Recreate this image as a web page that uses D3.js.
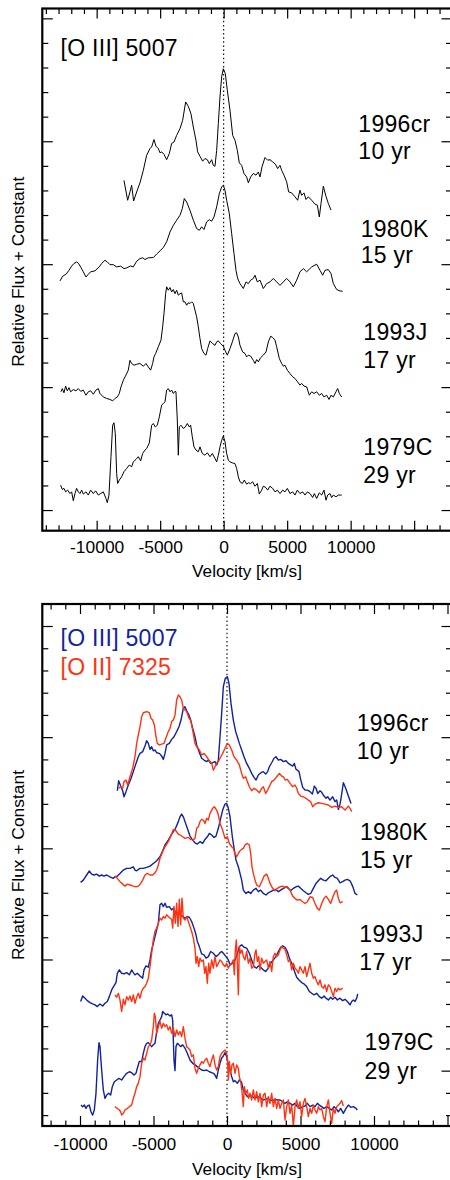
<!DOCTYPE html>
<html>
<head>
<meta charset="utf-8">
<script src="https://cdn.jsdelivr.net/npm/d3@7"></script>
<style>
body { margin: 0; background: #fff; }
text { font-family: "Liberation Sans", Arial, Helvetica, sans-serif; fill: #000; }
</style>
</head>
<body>
<svg id="chart" width="450" height="1180"></svg>
<script>
// tick labels shared by both panels
const velocityLabels = [-10000, -5000, 0, 5000, 10000]
const snNames = ['1996cr', '1980K', '1993J', '1979C']
const snAges = ['10 yr', '15 yr', '17 yr', '29 yr']

// top panel, [O III] 5007 only: [velocity km/s, relative flux + constant]
const top1996cr = [[-7850,13.41],[-7560,12.60],[-7376,12.94],[-7245,13.21],[-7088,12.57],[-6851,12.94],[-6589,13.31],[-6326,13.82],[-6064,14.43],[-5801,14.70],[-5670,14.77],[-5486,15.07],[-5329,14.80],[-5145,14.70],[-5014,14.53],[-4883,14.57],[-4699,14.47],[-4489,14.25],[-4279,14.50],[-4095,14.91],[-3911,14.97],[-3701,15.24],[-3439,15.51],[-3229,15.85],[-2993,16.60],[-2783,16.42],[-2573,16.12],[-2389,15.58],[-2179,15.04],[-2048,14.57],[-1864,14.39],[-1654,14.19],[-1470,14.30],[-1286,14.25],[-1129,14.09],[-945,14.25],[-814,14.02],[-683,13.98],[-551,14.63],[-420,15.72],[-289,16.80],[-158,17.62],[-26,17.95],[131,17.75],[289,17.07],[499,16.26],[709,15.24],[893,15.04],[1076,14.63],[1234,14.12],[1418,14.02],[1601,13.69],[1811,13.55],[1943,13.31],[2126,13.55],[2336,13.69],[2546,13.62],[2730,13.75],[2861,13.55],[3019,13.96],[3255,14.34],[3465,14.23],[3649,14.25],[3859,14.16],[4069,14.07],[4253,13.89],[4436,14.02],[4568,13.82],[4751,13.62],[4961,13.35],[5119,12.94],[5355,12.90],[5618,12.74],[5828,12.60],[6011,13.01],[6143,12.80],[6326,12.90],[6484,12.63],[6668,12.74],[6930,12.60],[7193,12.44],[7376,12.40],[7534,11.92],[7665,12.47],[7849,13.17],[8033,12.80],[8243,12.47],[8453,12.20]]
const top1980K = [[-12889,9.32],[-12679,9.51],[-12416,9.59],[-12180,9.75],[-11970,9.92],[-11786,10.03],[-11576,10.09],[-11419,10.03],[-11235,9.86],[-11051,9.69],[-10841,9.48],[-10658,9.59],[-10474,9.69],[-10133,9.73],[-9791,9.89],[-9608,10.03],[-9345,10.16],[-9161,10.09],[-8951,9.98],[-8689,9.98],[-8426,9.89],[-8111,9.92],[-7849,9.82],[-7639,9.85],[-7324,9.93],[-7114,9.89],[-6851,10.12],[-6589,10.23],[-6379,10.26],[-6195,10.19],[-5933,10.26],[-5539,10.27],[-5276,10.41],[-5014,10.54],[-4751,10.68],[-4489,10.91],[-4226,11.31],[-3964,11.58],[-3701,11.79],[-3439,11.99],[-3255,12.26],[-3098,12.67],[-2914,12.53],[-2651,12.19],[-2389,11.79],[-2126,11.45],[-1916,11.38],[-1733,11.52],[-1549,11.41],[-1339,11.72],[-1129,11.81],[-945,11.75],[-761,11.92],[-551,12.33],[-341,12.87],[-158,13.14],[-26,13.21],[105,13.01],[236,12.60],[446,12.06],[630,11.25],[814,10.43],[971,9.75],[1076,9.48],[1155,9.35],[1286,9.21],[1549,9.01],[1759,9.28],[1943,9.21],[2126,9.35],[2336,9.42],[2468,9.55],[2651,9.28],[2861,9.35],[3124,9.01],[3386,9.21],[3649,9.28],[3911,9.42],[4174,9.28],[4436,9.14],[4699,9.28],[4961,9.42],[5224,9.28],[5486,9.08],[5749,9.35],[6011,9.69],[6274,9.82],[6536,9.69],[6930,9.89],[7324,10.00],[7586,9.75],[7796,9.55],[7980,9.75],[8243,9.78],[8453,9.62],[8636,9.21],[8899,8.97],[9161,8.91],[9371,8.90]]
const top1993J = [[-12810,4.81],[-12705,4.94],[-12574,4.77],[-12443,5.04],[-12311,4.85],[-12180,4.98],[-12049,4.81],[-11839,4.90],[-11629,4.85],[-11445,4.94],[-11261,4.83],[-11051,4.88],[-10841,4.67],[-10658,4.81],[-10474,4.85],[-10264,4.71],[-10054,4.88],[-9870,4.94],[-9739,4.74],[-9476,4.60],[-9214,4.54],[-8951,4.50],[-8741,4.44],[-8558,4.54],[-8374,4.60],[-8216,4.74],[-8085,5.01],[-7901,5.28],[-7691,5.49],[-7508,5.69],[-7376,6.09],[-7245,5.96],[-7061,5.89],[-6851,5.93],[-6589,5.96],[-6326,5.85],[-6116,5.96],[-5933,5.82],[-5749,5.69],[-5591,5.96],[-5486,6.23],[-5355,6.37],[-5145,6.64],[-4935,6.91],[-4804,7.45],[-4699,7.99],[-4568,8.80],[-4489,9.08],[-4358,8.94],[-4226,9.05],[-4095,8.87],[-3964,8.97],[-3833,8.80],[-3701,8.94],[-3570,8.74],[-3439,8.80],[-3308,8.83],[-3176,8.47],[-3045,8.47],[-2914,8.33],[-2783,8.43],[-2651,8.40],[-2520,8.47],[-2389,8.40],[-2258,8.13],[-2126,7.86],[-1995,7.45],[-1864,6.98],[-1733,6.57],[-1549,6.37],[-1391,6.30],[-1260,6.57],[-1076,6.88],[-866,6.77],[-683,6.70],[-551,6.84],[-420,6.88],[-236,6.77],[-26,6.66],[105,6.50],[289,6.30],[499,6.57],[683,6.84],[893,7.18],[1024,7.21],[1155,7.04],[1286,6.70],[1496,6.43],[1680,6.37],[1811,6.23],[1943,6.30],[2126,6.26],[2336,6.09],[2468,5.96],[2599,6.12],[2730,6.03],[2914,6.20],[3124,6.30],[3334,6.43],[3518,6.84],[3701,7.07],[3859,7.02],[4043,6.91],[4174,6.64],[4384,6.16],[4568,5.96],[4699,5.85],[4830,5.89],[5014,5.69],[5224,5.55],[5434,5.42],[5618,5.35],[5828,5.21],[6011,5.08],[6143,5.15],[6326,5.04],[6536,5.01],[6746,4.67],[6930,4.81],[7114,4.74],[7324,4.81],[7534,4.67],[7718,4.74],[7901,4.60],[8111,4.67],[8295,4.50],[8453,4.67],[8636,4.60],[8846,4.81],[8978,4.94],[9109,4.74],[9293,4.60]]
const top1979C = [[-12836,1.01],[-12705,0.84],[-12574,0.88],[-12443,0.74],[-12285,0.81],[-12101,0.67],[-11970,0.74],[-11839,0.38],[-11708,0.67],[-11576,0.88],[-11445,0.74],[-11314,0.67],[-11183,0.81],[-11051,0.65],[-10841,0.74],[-10658,0.61],[-10474,0.81],[-10264,0.67],[-10080,0.78],[-9870,0.61],[-9686,0.67],[-9476,0.74],[-9266,0.47],[-9161,0.30],[-9030,0.61],[-8873,2.17],[-8741,3.45],[-8636,3.55],[-8531,3.11],[-8426,1.49],[-8348,1.08],[-8216,1.22],[-8033,1.35],[-7849,1.56],[-7639,1.69],[-7429,1.83],[-7245,1.76],[-7114,1.96],[-6904,2.06],[-6720,2.17],[-6536,2.00],[-6379,2.30],[-6195,2.44],[-6064,2.50],[-5854,2.73],[-5670,3.45],[-5539,3.52],[-5381,3.38],[-5224,3.45],[-5066,3.79],[-4883,4.27],[-4751,4.33],[-4620,4.40],[-4489,4.88],[-4358,4.94],[-4226,4.81],[-4095,4.88],[-3964,4.74],[-3833,4.83],[-3754,4.81],[-3649,3.66],[-3570,2.23],[-3491,3.38],[-3360,3.45],[-3176,3.32],[-3019,3.38],[-2861,3.52],[-2704,3.38],[-2599,3.45],[-2468,2.98],[-2336,2.57],[-2179,2.44],[-1995,2.37],[-1864,2.57],[-1680,2.30],[-1470,2.23],[-1286,2.33],[-1076,2.17],[-893,2.30],[-683,2.10],[-551,1.96],[-420,2.23],[-289,2.57],[-158,2.84],[-26,3.01],[105,2.78],[236,2.30],[368,2.03],[499,1.96],[683,1.92],[893,1.89],[1024,1.69],[1155,1.35],[1286,1.15],[1470,1.08],[1628,1.22],[1811,1.05],[1943,1.11],[2126,1.08],[2284,1.15],[2468,0.97],[2651,1.08],[2809,0.65],[2993,0.81],[3124,0.97],[3308,0.92],[3465,0.81],[3649,0.97],[3859,0.88],[4043,0.74],[4226,0.81],[4436,0.67],[4646,0.81],[4830,0.74],[5014,0.88],[5224,0.67],[5434,0.74],[5618,0.61],[5801,0.81],[6011,0.67],[6221,0.74],[6405,0.61],[6589,0.74],[6799,0.67],[7009,0.51],[7140,0.67],[7324,0.47],[7534,0.70],[7718,0.61],[7901,0.81],[8059,0.40],[8190,0.61],[8374,0.67],[8505,0.51],[8636,0.61],[8846,0.54],[9030,0.61],[9293,0.61]]

// bottom panel, [O III] 5007 (o3) against [O II] 7325 (o2)
const o3_1996cr = [[-7462,12.59],[-7371,13.04],[-7235,12.80],[-7099,12.59],[-7008,12.32],[-6872,12.55],[-6713,12.85],[-6555,13.10],[-6373,13.45],[-6192,13.82],[-6033,14.12],[-5919,14.27],[-5738,14.35],[-5579,14.60],[-5466,14.84],[-5352,14.72],[-5239,14.45],[-5126,14.57],[-5012,14.39],[-4899,14.42],[-4785,14.30],[-4604,14.27],[-4445,14.15],[-4332,14.00],[-4218,14.27],[-4105,14.65],[-3924,14.72],[-3765,14.90],[-3606,15.02],[-3425,15.25],[-3266,15.47],[-3130,15.77],[-2971,16.30],[-2858,16.37],[-2744,16.19],[-2586,15.99],[-2472,15.77],[-2336,15.40],[-2177,15.02],[-2064,14.65],[-1905,14.35],[-1724,14.05],[-1565,13.97],[-1383,13.90],[-1270,13.97],[-1111,13.82],[-975,13.85],[-816,13.90],[-703,13.75],[-590,13.97],[-476,15.02],[-363,16.07],[-249,17.27],[-113,17.65],[23,17.72],[136,17.42],[272,16.52],[431,15.77],[590,15.25],[703,15.02],[839,14.72],[998,14.42],[1157,14.12],[1338,13.82],[1520,13.60],[1678,13.37],[1837,13.19],[1973,13.07],[2132,13.30],[2313,13.40],[2472,13.45],[2631,13.34],[2767,13.45],[2880,13.67],[3039,13.85],[3198,14.05],[3334,14.12],[3493,13.97],[3651,14.00],[3833,13.90],[4014,13.94],[4173,13.82],[4332,13.75],[4468,13.70],[4581,13.82],[4695,13.55],[4785,13.52],[4899,13.45],[5012,13.10],[5148,12.74],[5307,12.62],[5466,12.62],[5647,12.55],[5806,12.44],[5942,12.80],[6056,12.70],[6169,12.47],[6328,12.59],[6441,12.52],[6600,12.35],[6736,12.25],[6849,12.32],[7008,12.17],[7190,12.32],[7348,12.10],[7462,12.17],[7575,11.75],[7689,11.99],[7757,12.25],[7915,12.95],[8074,12.70],[8256,12.35],[8437,12.02]]
const o2_1996cr = [[-7394,12.70],[-7235,12.77],[-7099,12.70],[-7008,13.00],[-6872,13.07],[-6759,12.85],[-6600,13.22],[-6418,13.60],[-6260,14.12],[-6146,14.72],[-6033,15.10],[-5919,15.47],[-5806,15.92],[-5693,16.10],[-5466,16.15],[-5284,16.10],[-5171,15.85],[-5058,15.77],[-4944,15.55],[-4831,15.02],[-4740,14.72],[-4604,14.65],[-4445,14.69],[-4287,14.72],[-4105,15.05],[-3992,15.25],[-3878,15.40],[-3765,15.70],[-3651,15.77],[-3538,15.99],[-3425,16.67],[-3311,16.90],[-3198,16.82],[-3084,16.67],[-2971,16.30],[-2858,16.22],[-2744,16.15],[-2586,15.85],[-2472,15.77],[-2336,15.32],[-2177,14.72],[-2064,14.57],[-1882,14.42],[-1724,14.20],[-1565,14.27],[-1383,14.12],[-1225,13.97],[-1043,13.82],[-930,13.52],[-816,13.67],[-703,13.85],[-590,13.90],[-476,14.05],[-295,14.27],[-136,14.50],[23,14.72],[159,14.65],[318,14.42],[476,14.12],[658,13.97],[839,13.75],[998,13.37],[1111,13.15],[1270,13.22],[1383,13.00],[1520,12.77],[1678,12.59],[1837,12.70],[2019,12.62],[2200,12.50],[2359,12.70],[2472,12.77],[2631,12.47],[2767,12.62],[2926,12.85],[3039,13.00],[3198,13.07],[3379,13.22],[3561,13.37],[3720,13.25],[3833,13.22],[3969,13.07],[4105,13.10],[4287,12.92],[4468,12.77],[4627,12.85],[4740,12.70],[4854,12.47],[5012,12.35],[5194,12.32],[5375,12.25],[5534,12.17],[5693,12.10],[5829,11.87],[5988,11.99],[6214,12.05],[6441,12.02],[6668,11.99],[6895,11.95],[7122,11.84],[7348,11.90],[7575,11.84],[7802,11.87],[8029,11.72],[8256,11.90],[8369,11.80],[8482,11.65]]
const o3_1980K = [[-9957,8.47],[-9775,8.57],[-9548,8.80],[-9367,8.98],[-9208,8.84],[-9049,8.80],[-8868,8.84],[-8686,8.75],[-8528,8.80],[-8369,8.75],[-8187,8.80],[-7961,8.72],[-7734,8.65],[-7620,8.72],[-7507,8.72],[-7280,8.87],[-7053,9.02],[-6827,9.10],[-6600,9.10],[-6373,9.17],[-6260,9.02],[-6146,8.99],[-5919,9.10],[-5693,9.10],[-5466,9.14],[-5239,9.20],[-5012,9.32],[-4785,9.44],[-4559,9.62],[-4377,9.89],[-4218,10.15],[-3992,10.37],[-3765,10.64],[-3538,10.85],[-3311,11.20],[-3198,11.42],[-3084,11.54],[-2971,11.42],[-2858,11.20],[-2699,10.90],[-2517,10.55],[-2336,10.37],[-2177,10.25],[-2019,10.19],[-1837,10.30],[-1656,10.22],[-1497,10.40],[-1338,10.52],[-1202,10.67],[-1043,10.60],[-885,10.49],[-748,10.55],[-590,10.90],[-431,11.35],[-295,11.72],[-136,11.99],[-23,12.02],[91,11.80],[204,11.42],[363,10.52],[499,9.92],[612,9.47],[771,9.17],[885,8.87],[998,8.57],[1111,8.12],[1293,7.97],[1452,8.05],[1610,7.97],[1792,8.12],[1973,8.20],[2132,8.05],[2291,8.12],[2472,7.97],[2654,7.90],[2812,8.00],[2971,8.05],[3153,8.12],[3334,8.15],[3493,8.05],[3651,8.12],[3833,8.20],[4014,8.27],[4173,8.20],[4332,8.09],[4513,8.20],[4695,8.27],[4854,8.30],[5012,8.20],[5194,8.09],[5375,8.00],[5534,7.93],[5693,7.97],[5874,8.20],[6056,8.42],[6214,8.54],[6373,8.65],[6555,8.57],[6736,8.54],[6895,8.65],[7053,8.75],[7190,8.80],[7348,8.69],[7507,8.65],[7689,8.45],[7870,8.50],[8029,8.57],[8187,8.60],[8369,8.54],[8482,8.39],[8596,8.20],[8709,7.97],[8868,7.90]]
const o2_1980K = [[-7620,8.77],[-7462,8.65],[-7280,8.50],[-7099,8.39],[-6940,8.30],[-6781,8.39],[-6600,8.35],[-6373,8.30],[-6192,8.27],[-6033,8.30],[-5874,8.42],[-5738,8.57],[-5579,8.80],[-5421,8.87],[-5239,8.80],[-5058,8.80],[-4899,8.90],[-4785,9.02],[-4672,9.25],[-4559,9.55],[-4377,9.85],[-4218,10.07],[-3992,10.30],[-3765,10.64],[-3651,10.85],[-3470,10.79],[-3311,10.64],[-3198,10.60],[-3016,10.52],[-2858,10.45],[-2631,10.49],[-2472,10.40],[-2291,10.37],[-2177,10.45],[-2064,10.90],[-1950,10.97],[-1837,11.20],[-1724,11.30],[-1610,11.27],[-1497,11.12],[-1383,11.35],[-1270,11.27],[-1157,11.57],[-975,11.80],[-862,11.87],[-703,11.72],[-590,11.50],[-476,11.12],[-295,10.82],[-136,10.45],[23,10.52],[159,10.22],[318,10.07],[431,10.00],[544,9.77],[658,9.62],[771,9.77],[885,9.89],[998,9.95],[1111,10.00],[1225,10.15],[1383,10.22],[1520,10.15],[1610,9.77],[1701,9.17],[1792,8.87],[1905,8.57],[2019,8.35],[2200,8.27],[2359,8.50],[2517,8.75],[2699,8.84],[2812,8.65],[2926,8.42],[3107,8.20],[3266,8.09],[3425,8.20],[3606,8.27],[3788,8.30],[3946,8.24],[4105,8.27],[4287,8.12],[4468,7.85],[4627,7.75],[4785,7.67],[4967,7.70],[5148,7.60],[5307,7.52],[5466,7.60],[5647,7.82],[5829,7.79],[5988,7.52],[6146,7.30],[6282,7.22],[6441,7.52],[6600,7.75],[6736,7.85],[6895,7.70],[7053,7.52],[7190,7.79],[7348,8.05],[7462,8.12],[7575,7.75],[7689,7.55],[7870,7.60]]
const o3_1993J = [[-9957,3.11],[-9820,3.36],[-9662,3.26],[-9503,3.15],[-9321,3.06],[-9140,3.00],[-8981,2.96],[-8823,2.88],[-8641,3.00],[-8460,2.91],[-8301,3.03],[-8142,3.11],[-8006,3.33],[-7847,3.63],[-7689,3.81],[-7552,3.96],[-7462,4.38],[-7326,4.53],[-7167,4.38],[-7008,4.35],[-6827,4.41],[-6645,4.31],[-6486,4.53],[-6373,4.41],[-6260,4.31],[-6101,4.38],[-5919,4.26],[-5738,4.16],[-5647,4.53],[-5511,4.71],[-5352,4.65],[-5239,4.98],[-5126,5.43],[-5012,5.73],[-4899,6.03],[-4785,6.33],[-4672,6.63],[-4559,7.46],[-4445,7.53],[-4332,7.38],[-4218,7.53],[-4105,7.35],[-3924,7.38],[-3765,7.23],[-3651,7.31],[-3538,7.16],[-3425,7.08],[-3311,7.11],[-3153,7.01],[-3016,6.93],[-2858,6.86],[-2699,6.93],[-2563,6.90],[-2404,6.71],[-2245,6.41],[-2109,6.11],[-2019,5.81],[-1882,5.58],[-1724,5.25],[-1565,5.21],[-1429,5.06],[-1270,5.13],[-1111,5.36],[-930,5.28],[-748,5.13],[-590,5.21],[-476,5.31],[-363,5.36],[-249,5.28],[-68,5.13],[91,4.98],[204,4.76],[386,4.83],[544,4.98],[703,5.25],[839,5.58],[998,5.66],[1157,5.55],[1338,5.51],[1520,5.28],[1678,4.98],[1837,4.68],[2019,4.61],[2132,4.71],[2291,4.65],[2472,4.53],[2631,4.46],[2812,4.61],[2971,4.83],[3153,4.98],[3334,5.13],[3493,5.36],[3651,5.55],[3788,5.61],[3946,5.55],[4105,5.36],[4241,5.06],[4400,4.83],[4559,4.53],[4740,4.20],[4899,4.08],[5080,3.96],[5239,3.90],[5421,3.78],[5602,3.56],[5761,3.48],[5919,3.41],[6101,3.48],[6282,3.33],[6441,3.26],[6600,3.36],[6736,3.26],[6895,3.18],[7053,3.30],[7190,3.21],[7348,3.30],[7507,3.18],[7689,3.26],[7870,3.15],[8029,3.21],[8187,3.11],[8369,2.96],[8482,3.11],[8596,3.18],[8709,3.11],[8823,3.26],[8891,3.45]]
const o2_1993J = [[-7620,3.41],[-7507,3.30],[-7394,3.48],[-7280,3.18],[-7167,2.66],[-7053,3.21],[-6940,2.96],[-6827,3.33],[-6713,3.18],[-6600,3.36],[-6486,3.11],[-6373,3.41],[-6260,3.03],[-6146,3.30],[-6033,3.48],[-5919,3.26],[-5806,3.56],[-5693,3.71],[-5579,3.78],[-5466,3.93],[-5352,4.16],[-5239,4.68],[-5126,5.28],[-5012,5.88],[-4899,6.26],[-4785,6.41],[-4672,6.63],[-4559,6.86],[-4445,6.78],[-4332,6.93],[-4218,6.86],[-4105,7.01],[-3992,6.93],[-3878,6.86],[-3765,6.81],[-3697,6.41],[-3606,7.38],[-3515,6.63],[-3425,7.53],[-3334,6.48],[-3243,7.71],[-3153,6.56],[-3062,7.76],[-2971,6.86],[-2858,6.78],[-2744,6.93],[-2631,6.71],[-2517,6.48],[-2404,6.26],[-2291,5.96],[-2177,5.51],[-2109,4.83],[-2019,5.13],[-1928,4.68],[-1837,5.06],[-1724,4.91],[-1610,4.98],[-1520,4.38],[-1429,4.68],[-1338,3.93],[-1247,4.83],[-1157,4.38],[-1043,4.98],[-930,4.61],[-816,5.13],[-703,4.68],[-590,4.83],[-476,4.98],[-363,4.91],[-249,4.76],[-136,4.68],[-23,4.83],[91,4.61],[204,4.76],[318,4.83],[431,4.98],[499,4.31],[567,5.43],[635,5.88],[703,4.83],[771,3.41],[839,5.58],[930,5.28],[1021,5.43],[1111,5.13],[1225,4.98],[1338,5.36],[1452,4.83],[1565,5.06],[1678,4.61],[1792,4.68],[1905,5.28],[1973,5.43],[2064,4.91],[2155,5.13],[2245,4.53],[2359,5.06],[2472,4.83],[2586,4.91],[2699,4.98],[2812,4.61],[2926,4.91],[3039,4.46],[3153,5.13],[3266,5.28],[3379,5.13],[3493,5.21],[3606,5.43],[3720,5.58],[3833,5.51],[3946,5.46],[4060,5.21],[4173,4.91],[4287,4.98],[4400,4.53],[4513,4.83],[4627,4.61],[4740,4.53],[4854,4.38],[4967,4.68],[5080,4.53],[5194,4.38],[5307,4.68],[5421,4.23],[5534,4.53],[5647,4.83],[5761,4.38],[5874,4.16],[5988,4.23],[6101,4.01],[6214,3.86],[6328,4.08],[6441,3.78],[6555,3.71],[6668,3.86],[6781,3.56],[6895,3.86],[7008,3.78],[7122,3.56],[7235,3.33],[7348,3.71],[7462,3.56],[7575,3.71],[7689,3.63],[7870,3.71]]
const o3_1979C = [[-9934,-1.55],[-9820,-1.62],[-9707,-1.55],[-9594,-1.70],[-9503,-1.59],[-9367,-1.55],[-9253,-1.85],[-9140,-2.00],[-9027,-1.77],[-8913,-1.02],[-8800,0.48],[-8709,1.26],[-8641,1.08],[-8528,0.03],[-8414,-0.87],[-8301,-1.25],[-8187,-1.10],[-8051,-1.02],[-7915,-1.10],[-7802,-0.72],[-7666,-0.50],[-7507,-0.42],[-7348,-0.35],[-7167,-0.42],[-7008,-0.27],[-6827,-0.12],[-6645,-0.05],[-6486,-0.09],[-6328,-0.20],[-6192,-0.12],[-6101,0.11],[-5965,0.41],[-5806,0.41],[-5693,0.78],[-5579,1.08],[-5466,1.23],[-5352,1.26],[-5239,1.16],[-5126,1.08],[-5012,1.16],[-4899,1.23],[-4785,1.76],[-4672,2.13],[-4559,2.28],[-4445,2.43],[-4377,2.66],[-4264,2.58],[-4150,2.51],[-4037,2.55],[-3878,2.46],[-3765,2.51],[-3697,2.28],[-3606,0.48],[-3538,0.00],[-3470,1.08],[-3379,1.23],[-3266,1.16],[-3153,1.08],[-3016,1.16],[-2858,1.01],[-2699,0.78],[-2517,0.48],[-2336,0.33],[-2177,0.26],[-2019,0.18],[-1882,0.11],[-1724,0.03],[-1565,0.00],[-1383,0.03],[-1202,-0.05],[-1043,-0.09],[-930,-0.12],[-816,-0.20],[-703,-0.35],[-590,0.03],[-476,0.33],[-363,0.56],[-249,0.66],[-136,0.81],[-23,0.63],[91,0.26],[204,0.03],[318,-0.27],[431,-0.50],[544,-0.45],[703,-0.57],[839,-0.42],[975,-0.50],[1111,-0.87],[1225,-1.02],[1383,-1.17],[1565,-1.10],[1724,-1.17],[1905,-1.25],[2064,-1.17],[2245,-1.20],[2427,-1.32],[2586,-1.29],[2767,-1.25],[2926,-1.32],[3107,-1.35],[3266,-1.29],[3425,-1.32],[3606,-1.32],[3788,-1.40],[3946,-1.47],[4105,-1.40],[4287,-1.47],[4468,-1.55],[4627,-1.47],[4785,-1.62],[4967,-1.70],[5148,-1.62],[5307,-1.59],[5466,-1.47],[5647,-1.62],[5829,-1.55],[5988,-1.62],[6146,-1.47],[6282,-1.55],[6441,-1.62],[6600,-1.70],[6781,-1.62],[6963,-1.70],[7122,-1.77],[7280,-1.62],[7416,-1.70],[7575,-1.85],[7734,-1.70],[7915,-1.92],[8097,-1.70],[8256,-1.55],[8414,-1.65],[8596,-1.62],[8777,-1.70],[8868,-1.77]]
const o2_1979C = [[-7620,-1.62],[-7462,-1.70],[-7326,-1.77],[-7235,-1.85],[-7167,-2.00],[-7053,-1.92],[-6940,-1.77],[-6781,-1.70],[-6645,-1.62],[-6486,-1.55],[-6373,-1.25],[-6260,-1.02],[-6146,-0.72],[-6033,-0.57],[-5919,-0.27],[-5806,0.33],[-5693,0.56],[-5579,0.48],[-5466,0.78],[-5352,1.08],[-5239,1.16],[-5126,1.38],[-5012,1.98],[-4944,2.58],[-4876,2.43],[-4785,1.68],[-4672,1.98],[-4559,2.21],[-4445,1.91],[-4332,2.13],[-4218,1.98],[-4105,2.06],[-3992,1.83],[-3878,1.98],[-3765,1.68],[-3651,1.91],[-3538,1.53],[-3425,1.83],[-3311,1.61],[-3198,1.76],[-3084,1.53],[-2971,1.98],[-2858,1.46],[-2744,1.08],[-2631,1.01],[-2517,0.93],[-2404,0.63],[-2291,0.71],[-2177,0.11],[-2064,-0.12],[-1950,0.11],[-1837,0.26],[-1724,0.41],[-1610,0.33],[-1497,0.48],[-1383,0.56],[-1270,0.33],[-1157,0.18],[-1043,0.48],[-930,0.71],[-816,0.26],[-703,0.03],[-590,0.18],[-476,0.63],[-363,0.78],[-249,0.86],[-136,0.93],[-68,0.86],[23,0.63],[91,-0.42],[159,0.41],[249,-0.12],[340,0.26],[431,0.33],[544,-0.12],[658,0.26],[771,0.11],[839,-0.27],[930,-0.50],[1021,-0.95],[1111,-1.62],[1179,-0.72],[1270,-1.02],[1383,-0.87],[1474,-1.25],[1565,-1.02],[1678,-1.32],[1792,-0.87],[1905,-1.32],[2019,-0.95],[2132,-1.40],[2245,-1.02],[2359,-1.62],[2472,-1.10],[2586,-1.02],[2699,-1.62],[2812,-1.17],[2926,-1.47],[3039,-1.02],[3153,-1.62],[3266,-1.25],[3379,-1.70],[3493,-1.32],[3606,-1.70],[3720,-1.47],[3833,-1.32],[3946,-2.22],[4060,-1.62],[4173,-1.32],[4287,-1.92],[4400,-1.55],[4513,-2.52],[4627,-1.62],[4740,-1.32],[4854,-1.70],[4967,-1.40],[5080,-2.07],[5194,-1.47],[5307,-1.25],[5421,-1.62],[5534,-2.07],[5647,-1.70],[5761,-1.92],[5874,-1.55],[5988,-1.77],[6101,-1.92],[6214,-1.62],[6328,-1.77],[6441,-1.70],[6555,-2.07],[6668,-2.30],[6781,-1.62],[6895,-1.32],[7008,-1.92],[7122,-2.37],[7235,-1.70],[7348,-1.92],[7462,-1.62],[7575,-1.55],[7689,-1.47],[7802,-1.35],[7915,-1.59]]

const blue = '#10229c'
const red = '#ff3311'

const panels = [
    {
        left: 42.3, right: 452, top: 8.5, bottom: 530.7,
        xDomain: [-14280, 17980], yDomain: [-0.84, 20.40],
        yTicks: d3.range(0, 21), tickPad: 10, xTitleY: 577, yTitleY: 271.7,
        series: [
            { data: top1996cr, color: '#000', width: 1 },
            { data: top1980K, color: '#000', width: 1 },
            { data: top1993J, color: '#000', width: 1 },
            { data: top1979C, color: '#000', width: 1 },
        ],
        legend: [{ text: '[O III] 5007', color: '#000', x: 60.5, y: 56 }],
        tags: [[358.3, 131.7, 159.3], [360.7, 237.3, 263.3], [363.3, 340, 368.3], [363.3, 455, 483.3]],
    },
    {
        left: 42.3, right: 452, top: 604, bottom: 1126,
        xDomain: [-12565, 15306], yDomain: [-2.49, 20.99],
        yTicks: d3.range(-2, 21), tickPad: 12, xTitleY: 1175, yTitleY: 865,
        series: [
            { data: o3_1996cr, color: blue, width: 1.4 },
            { data: o2_1996cr, color: red, width: 1.4 },
            { data: o3_1980K, color: blue, width: 1.4 },
            { data: o2_1980K, color: red, width: 1.4 },
            { data: o3_1993J, color: blue, width: 1.4 },
            { data: o2_1993J, color: red, width: 1.4 },
            { data: o3_1979C, color: blue, width: 1.4 },
            { data: o2_1979C, color: red, width: 1.4 },
        ],
        legend: [
            { text: '[O III] 5007', color: blue, x: 60.5, y: 646 },
            { text: '[O II] 7325', color: red, x: 60.5, y: 675 },
        ],
        tags: [[356.7, 730.7, 759.3], [360, 840, 868.3], [359.3, 941.7, 970], [364.5, 1050, 1079.3]],
    },
]

const svg = d3.select('#chart')

const tickAxis = (g, axis, values, size, labels) => {
    g.call(axis.tickValues(values).tickSize(-size)
        .tickFormat(d => (labels && labels.includes(d)) ? String(d) : ''))
    g.select('.domain').remove()
    g.selectAll('.tick line').attr('stroke', '#000').attr('stroke-width', 1.2)
    g.selectAll('.tick text').attr('font-size', 17.4)
        .attr('font-family', '"Liberation Sans", Arial, sans-serif').attr('fill', '#000')
}

panels.forEach((p, pi) => {
    const x = d3.scaleLinear().domain(p.xDomain).range([p.left, p.right])
    const y = d3.scaleLinear().domain(p.yDomain).range([p.bottom, p.top])
    const g = svg.append('g')

    g.append('clipPath').attr('id', 'clip' + pi)
        .append('rect').attr('x', p.left).attr('y', p.top)
        .attr('width', p.right - p.left).attr('height', p.bottom - p.top)

    // velocity ticks every 1000, longer every 5000
    const xAll = d3.range(Math.ceil(p.xDomain[0] / 1000) * 1000, p.xDomain[1], 1000)
    const xMajor = xAll.filter(d => d % 5000 === 0)
    const xMinor = xAll.filter(d => d % 5000 !== 0)
    const yMajor = p.yTicks.filter(d => d % 5 === 0)
    const yMinor = p.yTicks.filter(d => d % 5 !== 0)

    g.append('g').attr('transform', `translate(0,${p.bottom})`).call(s => tickAxis(s, d3.axisBottom(x).tickPadding(p.tickPad), xMinor, 5.5))
    g.append('g').attr('transform', `translate(0,${p.bottom})`).call(s => tickAxis(s, d3.axisBottom(x).tickPadding(p.tickPad), xMajor, 10, velocityLabels))
    g.append('g').attr('transform', `translate(0,${p.top})`).call(s => tickAxis(s, d3.axisTop(x), xMinor, 5.5))
    g.append('g').attr('transform', `translate(0,${p.top})`).call(s => tickAxis(s, d3.axisTop(x), xMajor, 10))
    g.append('g').attr('transform', `translate(${p.left},0)`).call(s => tickAxis(s, d3.axisLeft(y), yMinor, 6))
    g.append('g').attr('transform', `translate(${p.left},0)`).call(s => tickAxis(s, d3.axisLeft(y), yMajor, 10.5))
    g.append('g').attr('transform', `translate(${p.right},0)`).call(s => tickAxis(s, d3.axisRight(y), yMinor, 6))
    g.append('g').attr('transform', `translate(${p.right},0)`).call(s => tickAxis(s, d3.axisRight(y), yMajor, 10.5))

    // zero velocity marker
    g.append('line')
        .attr('x1', x(0)).attr('x2', x(0)).attr('y1', p.top).attr('y2', p.bottom)
        .attr('stroke', '#000').attr('stroke-width', 1.1).attr('stroke-dasharray', '1.5,2.6')

    const line = d3.line().x(d => x(d[0])).y(d => y(d[1]))
    g.append('g').attr('clip-path', `url(#clip${pi})`)
        .selectAll('path').data(p.series).enter().append('path')
        .attr('d', d => line(d.data))
        .attr('fill', 'none')
        .attr('stroke', d => d.color)
        .attr('stroke-width', d => d.width)
        .attr('stroke-linejoin', 'round')

    g.append('rect')
        .attr('x', p.left).attr('y', p.top)
        .attr('width', p.right - p.left).attr('height', p.bottom - p.top)
        .attr('fill', 'none').attr('stroke', '#000').attr('stroke-width', 2.2)

    g.selectAll('.legend').data(p.legend).enter().append('text')
        .attr('x', d => d.x).attr('y', d => d.y)
        .attr('font-size', 23).attr('letter-spacing', 0.3).style('fill', d => d.color)
        .text(d => d.text)

    p.tags.forEach((t, i) => {
        g.append('text').attr('x', t[0]).attr('y', t[1]).attr('font-size', 23).attr('letter-spacing', 0.3).text(snNames[i])
        g.append('text').attr('x', t[0]).attr('y', t[2]).attr('font-size', 23).attr('letter-spacing', 0.3).text(snAges[i])
    })

    g.append('text')
        .attr('x', 247).attr('y', p.xTitleY)
        .attr('text-anchor', 'middle').attr('font-size', 17.2)
        .text('Velocity [km/s]')

    g.append('text')
        .attr('transform', `translate(24,${p.yTitleY}) rotate(-90)`)
        .attr('text-anchor', 'middle').attr('font-size', 17.4)
        .text('Relative Flux + Constant')
})
</script>
</body>
</html>
